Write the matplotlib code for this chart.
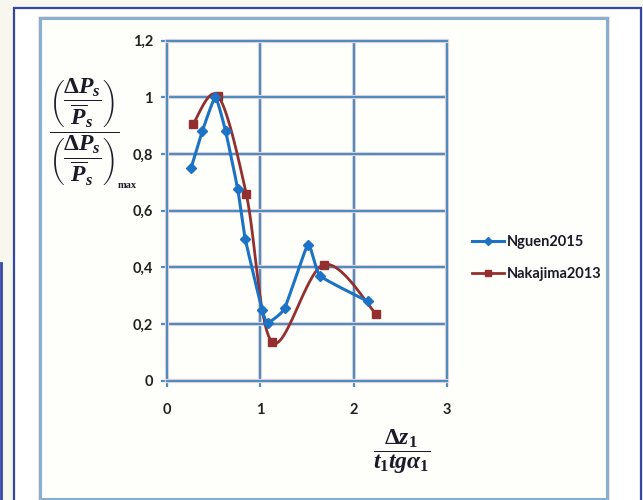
import numpy as np
import matplotlib
matplotlib.use("Agg")
import matplotlib.pyplot as plt
import matplotlib.patheffects as pe
from matplotlib.patches import Rectangle
from matplotlib.lines import Line2D

# measured points (relative displacement vs normalised pressure pulsation)
nguen_x = [0.26, 0.38, 0.52, 0.63, 0.76, 0.84, 1.02, 1.08, 1.26, 1.51, 1.64, 2.15]
nguen_y = [0.75, 0.88, 1.00, 0.88, 0.675, 0.50, 0.25, 0.205, 0.255, 0.48, 0.37, 0.28]
naka_x = [0.28, 0.55, 0.85, 1.13, 1.68, 2.24]
naka_y = [0.905, 1.005, 0.66, 0.135, 0.41, 0.235]

xticks = [0, 1, 2, 3]
yticks = [0, 0.2, 0.4, 0.6, 0.8, 1.0, 1.2]
ytick_labels = ["0", "0,2", "0,4", "0,6", "0,8", "1", "1,2"]

BLUE = "#1c72c4"
RED = "#93302f"
GRID = "#4f8dc0"
HALO = "#f8dede"
INK = "#1a1a2a"

plt.rcParams["mathtext.fontset"] = "custom"
plt.rcParams["mathtext.rm"] = "Liberation Serif:bold"
plt.rcParams["mathtext.it"] = "Liberation Serif:italic:bold"
plt.rcParams["mathtext.bf"] = "Liberation Serif:bold"


def smooth(xs, ys, tension=1.0, n=20):
    # cubic Hermite curve through the points, tangents scaled like Excel's smoothing
    p = np.column_stack([xs, ys]).astype(float)
    q = np.vstack([p[0], p, p[-1]])
    tang = tension * 0.5 * (q[2:] - q[:-2])
    t = np.linspace(0, 1, n)[:, None]
    h00 = 2 * t ** 3 - 3 * t ** 2 + 1
    h10 = t ** 3 - 2 * t ** 2 + t
    h01 = -2 * t ** 3 + 3 * t ** 2
    h11 = t ** 3 - t ** 2
    out = [p[:1]]
    for i in range(len(p) - 1):
        seg = h00 * p[i] + h10 * tang[i] + h01 * p[i + 1] + h11 * tang[i + 1]
        out.append(seg[1:])
    out = np.vstack(out)
    return out[:, 0], out[:, 1]


W, H = 643, 500
fig = plt.figure(figsize=(W / 100, H / 100), dpi=100)
fig.patch.set_facecolor("#f7f7ef")

# frames around the chart
fig.add_artist(Rectangle((14 / W, -0.02), (641 - 14) / W, 1 - 8 / H + 0.02,
                         transform=fig.transFigure, facecolor="white",
                         edgecolor="#3447a6", lw=1.6, zorder=0))
fig.add_artist(Rectangle((40 / W, 1 - 499 / H), (607 - 40) / W, (499 - 18) / H,
                         transform=fig.transFigure, facecolor="#fefefb",
                         edgecolor="#86b0d2", lw=2.2, zorder=0,
                         path_effects=[pe.withStroke(linewidth=3.5, foreground=HALO)]))
fig.add_artist(Line2D([1 / W, 1 / W], [0, 1 - 263 / H], transform=fig.transFigure,
                      color="#3447a6", lw=2))

ax = fig.add_axes([166.7 / W, 1 - 380.7 / H, (447.3 - 166.7) / W, 340 / H])
ax.set_facecolor("none")
ax.set_xlim(0, 3)
ax.set_ylim(0, 1.2)
ax.set_xticks(xticks)
ax.set_yticks(yticks)
ax.set_yticklabels(ytick_labels)
ax.tick_params(axis="both", colors=GRID, width=1.6, length=4, direction="out",
               labelcolor="#222222", labelsize=10.5)
ax.tick_params(axis="x", pad=12)
ax.tick_params(axis="y", pad=6)
for lab in ax.get_xticklabels() + ax.get_yticklabels():
    lab.set_fontfamily("Lato")
    lab.set_fontweight("bold")

halo = [pe.withStroke(linewidth=3, foreground=HALO)]
ax.grid(True, color=GRID, lw=1.7)
for gl in ax.get_xgridlines() + ax.get_ygridlines():
    gl.set_path_effects(halo)
for sp in ax.spines.values():
    sp.set_color(GRID)
    sp.set_linewidth(1.7)
    sp.set_path_effects(halo)
ax.set_axisbelow(True)

rx, ry = smooth(naka_x, naka_y, tension=1.0)
ax.plot(rx, ry, color=RED, lw=2.0, zorder=3)
ax.plot(naka_x, naka_y, ls="none", marker="s", ms=5.5, color=RED, zorder=3)
sx, sy = smooth(nguen_x, nguen_y, tension=0.45)
ax.plot(sx, sy, color=BLUE, lw=2.2, zorder=4)
ax.plot(nguen_x, nguen_y, ls="none", marker="D", ms=5.5, color=BLUE, zorder=5)

handles = [Line2D([], [], color=BLUE, lw=2.2, marker="D", ms=4),
           Line2D([], [], color=RED, lw=2.0, marker="s", ms=4)]
leg = fig.legend(handles, ["Nguen2015", "Nakajima2013"], loc="upper left",
                 bbox_to_anchor=(465 / W, 1 - 228 / H), frameon=False,
                 borderpad=0, handlelength=2.2, handletextpad=0.2,
                 labelspacing=1.2, prop={"family": "Lato", "weight": "bold", "size": 10.5})
for t in leg.get_texts():
    t.set_color(INK)

# normalised pulsation amplitude on the y side, "max" index set apart
fig.text(84 / W, 1 - 132 / H,
         r"$\dfrac{\left(\dfrac{\Delta P_s}{\overline{P}_s}\right)}"
         r"{\left(\dfrac{\Delta P_s}{\overline{P}_s}\right)}$",
         ha="center", va="center", fontsize=17, color=INK)
fig.text(118 / W, 1 - 185 / H, "max", ha="left", va="center",
         fontsize=7.5, fontweight="bold", family="Liberation Serif", color=INK)

# relative displacement on the x side
fig.text(402 / W, 1 - 452 / H, r"$\dfrac{\Delta z_1}{t_1 tg\alpha_1}$",
         ha="center", va="center", fontsize=17, color=INK)

fig.savefig("out.png", dpi=100)
